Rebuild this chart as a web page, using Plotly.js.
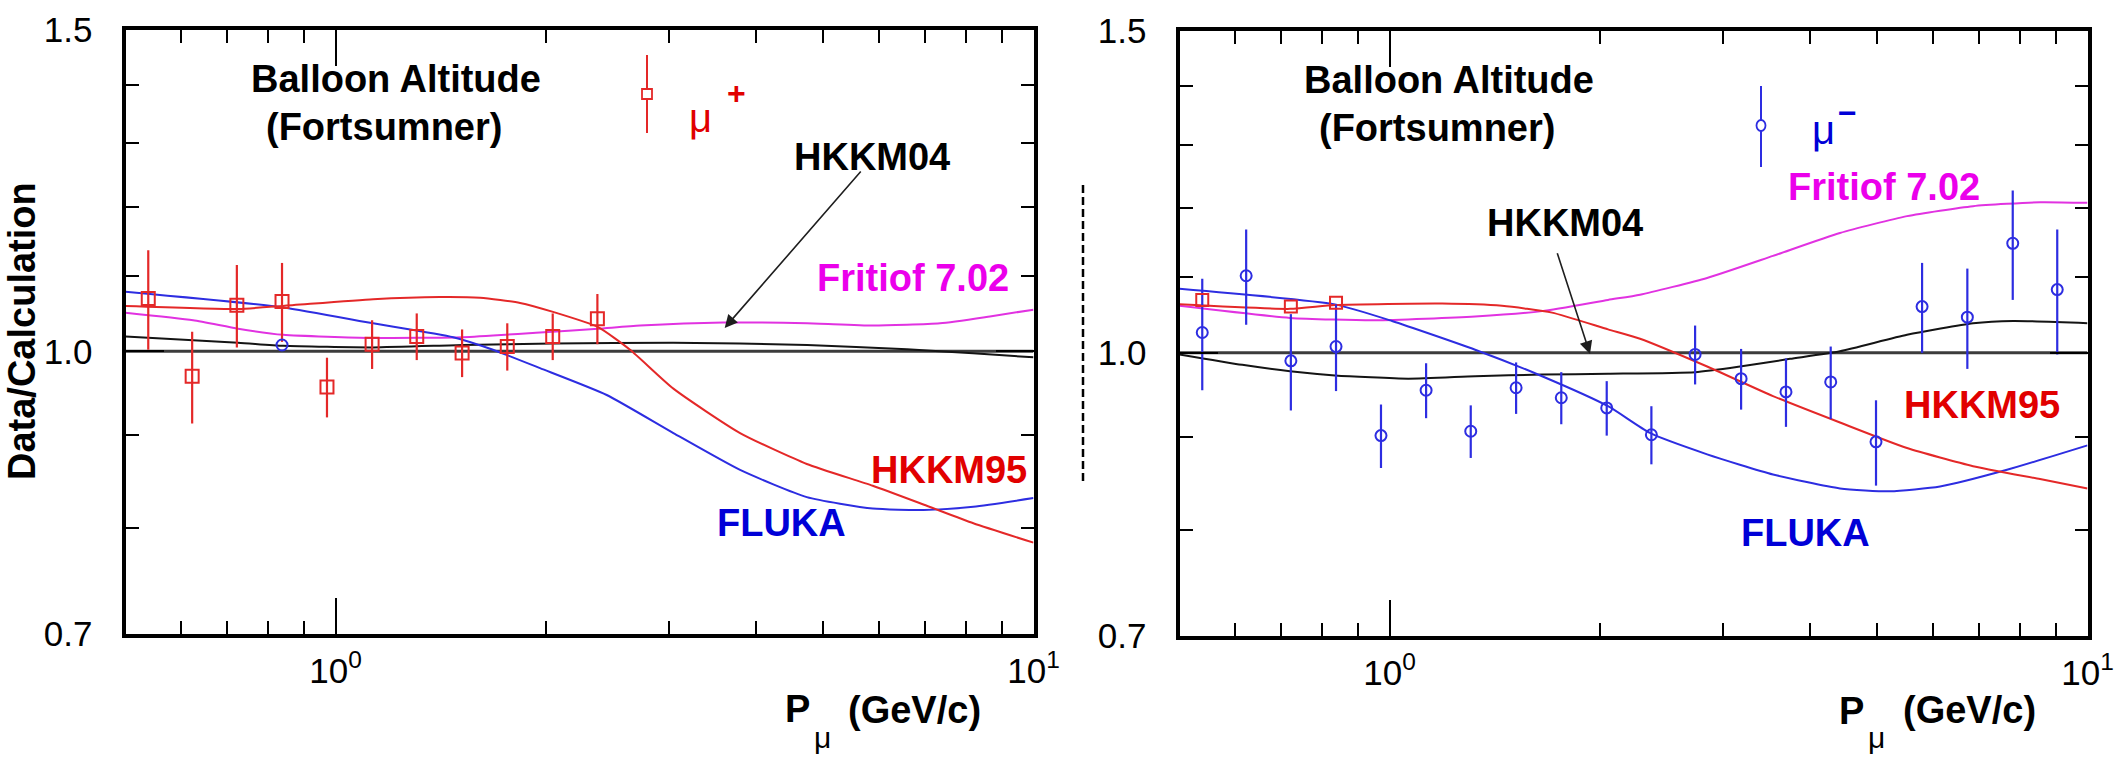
<!DOCTYPE html>
<html>
<head>
<meta charset="utf-8">
<script src="https://cdn.plot.ly/plotly-3.0.1.min.js"></script>
<style>
  html, body { margin: 0; padding: 0; background: #ffffff; }
  #chart { width: 2114px; height: 757px; }
</style>
</head>
<body>
<div id="chart"></div>
<script>
// ---- Momentum bins (GeV/c) shared by the mu+ and mu- measurements ----
const momentumBins = [0.539, 0.623, 0.722, 0.838, 0.972, 1.128, 1.307, 1.518, 1.762, 2.047,
                      2.372, 2.740, 3.189, 3.698, 4.286, 4.977, 5.794, 6.727, 7.814, 9.05];

// ---- mu+ data / calculation ratio (first 11 bins) ----
const muPlusRatio = [1.069, 0.969, 1.060, 1.065, 0.956, 1.009, 1.019, 0.998, 1.006, 1.019, 1.042];
const muPlusErr   = [0.067, 0.056, 0.055, 0.053, 0.036, 0.031, 0.030, 0.030, 0.030, 0.030, 0.033];

// ---- mu- data / calculation ratio (20 bins) ----
const muMinusRatio = [1.026, 1.102, 0.990, 1.008, 0.901, 0.954, 0.906, 0.957, 0.945, 0.933,
                      0.902, 0.998, 0.968, 0.952, 0.964, 0.894, 1.060, 1.046, 1.148, 1.083];
const muMinusErr   = [0.072, 0.066, 0.060, 0.055, 0.036, 0.033, 0.030, 0.031, 0.031, 0.032,
                      0.033, 0.037, 0.037, 0.041, 0.044, 0.048, 0.060, 0.066, 0.079, 0.085];

// points of the other charge that overlap each panel
const muMinusShownLeft = [3];
const muPlusShownRight = [0, 2, 3];

// ---- model ratios, mu+ ----
const plusFlukaP   = [0.5, 0.841, 1.132, 1.474, 1.681, 1.963, 2.446, 3.048, 3.798, 4.733, 5.884, 6.953, 8.2, 10];
const plusFlukaR   = [1.078, 1.057, 1.036, 1.018, 1.002, 0.979, 0.9464, 0.902, 0.861, 0.832, 0.820, 0.8186, 0.822, 0.831];
const plusHkkm95P  = [0.5, 0.725, 0.841, 1.132, 1.411, 1.611, 1.838, 2.049, 2.377, 2.642, 3.048, 3.798, 4.733, 5.884, 7.031, 8.2, 10];
const plusHkkm95R  = [1.059, 1.055, 1.059, 1.068, 1.071, 1.070, 1.063, 1.051, 1.031, 1.002, 0.954, 0.902, 0.8675, 0.844, 0.823, 0.805, 0.7855];
const plusFritiofP = [0.5, 0.625, 0.725, 0.841, 1.132, 1.523, 1.963, 2.377, 2.731, 3.592, 4.738, 5.888, 7.346, 8.66, 10];
const plusFritiofR = [1.050, 1.040, 1.029, 1.021, 1.017, 1.018, 1.024, 1.029, 1.033, 1.037, 1.036, 1.033, 1.036, 1.045, 1.054];
const plusHkkm04P  = [0.5, 0.725, 0.841, 1.132, 1.523, 2.049, 3.045, 4.738, 6.587, 8.19, 10];
const plusHkkm04R  = [1.019, 1.011, 1.007, 1.005, 1.008, 1.010, 1.011, 1.008, 1.0025, 0.9975, 0.9925];

// ---- model ratios, mu- ----
const minusFlukaP   = [0.5, 0.835, 1.008, 1.326, 1.654, 2.056, 2.361, 2.851, 3.543, 4.419, 5.212, 6.147, 7.668, 10];
const minusFlukaR   = [1.084, 1.063, 1.041, 1.004, 0.971, 0.935, 0.904, 0.880, 0.858, 0.843, 0.840, 0.845, 0.863, 0.890];
const minusHkkm95P  = [0.5, 0.720, 0.835, 1.189, 1.449, 1.709, 2.056, 2.285, 2.851, 3.543, 4.419, 5.513, 6.855, 8.55, 10];
const minusHkkm95R  = [1.063, 1.057, 1.062, 1.064, 1.061, 1.052, 1.030, 1.018, 0.983, 0.947, 0.916, 0.887, 0.867, 0.853, 0.843];
const minusFritiofP = [0.5, 0.720, 0.953, 1.326, 1.654, 2.056, 2.285, 2.851, 3.543, 4.419, 5.513, 6.855, 8.55, 10];
const minusFritiofR = [1.061, 1.045, 1.042, 1.047, 1.054, 1.069, 1.076, 1.099, 1.130, 1.163, 1.188, 1.203, 1.209, 1.208];
const minusHkkm04P  = [0.5, 0.615, 0.720, 0.835, 1.063, 1.326, 1.654, 2.056, 2.741, 3.178, 3.748, 4.419, 5.513, 6.855, 7.823, 10];
const minusHkkm04R  = [0.998, 0.985, 0.977, 0.972, 0.968, 0.971, 0.973, 0.974, 0.976, 0.983, 0.9925, 1.002, 1.023, 1.038, 1.041, 1.038];

// ---- axes ----
const pRange = [0.5, 10];
const ratioRange = [0.7, 1.5];
const unityRatio = [1, 1];
const xMajorTicks = [1, 10];
const xMajorText = ['10<sup>0</sup>', '10<sup>1</sup>'];
const xMinorTicks = [0.6, 0.7, 0.8, 0.9, 2, 3, 4, 5, 6, 7, 8, 9];
const yMajorTicks = [0.7, 1.0, 1.5];
const yMajorText = ['0.7', '1.0', '1.5'];
const yMinorTicks = [0.8, 0.9, 1.1, 1.2, 1.3, 1.4];

// ---- colours ----
const RED = 'rgb(228,40,40)';
const BLUE = 'rgb(45,45,225)';
const MAGENTA = 'rgb(225,50,225)';
const BLACK = 'rgb(20,20,20)';
const TXT_RED = 'rgb(225,0,0)';
const TXT_BLUE = 'rgb(0,0,215)';
const TXT_MAGENTA = 'rgb(235,0,235)';
const FONT = '"Liberation Sans", Arial, Helvetica, sans-serif';

// ---- figure geometry (pixels) ----
const W = 2114, H = 757;
const px = v => v / W;
const py = v => 1 - v / H;

function pick(arr, idx) { return idx.map(i => arr[i]); }

function curve(x, y, color, xa, ya, width) {
  return { x, y, type: 'scatter', mode: 'lines', xaxis: xa, yaxis: ya,
           line: { color, width: width || 2, shape: 'spline', smoothing: 0.55 },
           hoverinfo: 'skip', showlegend: false };
}
function points(x, y, err, symbol, color, size, xa, ya) {
  const t = { x, y, type: 'scatter', mode: 'markers', xaxis: xa, yaxis: ya,
              marker: { symbol, size, color, line: { color, width: 2 } },
              hoverinfo: 'skip', showlegend: false };
  if (err) t.error_y = { type: 'data', array: err, visible: true, color, thickness: 2.2, width: 0 };
  return t;
}

const traces = [
  // left panel: mu+
  curve(pRange, unityRatio, 'rgb(60,60,60)', 'x', 'y', 3),
  curve(plusHkkm04P, plusHkkm04R, BLACK, 'x', 'y'),
  curve(plusFritiofP, plusFritiofR, MAGENTA, 'x', 'y'),
  curve(plusFlukaP, plusFlukaR, BLUE, 'x', 'y'),
  curve(plusHkkm95P, plusHkkm95R, RED, 'x', 'y'),
  points(momentumBins.slice(0, muPlusRatio.length), muPlusRatio, muPlusErr, 'square-open', RED, 13, 'x', 'y'),
  points(pick(momentumBins, muMinusShownLeft), pick(muMinusRatio, muMinusShownLeft), null, 'circle-open', BLUE, 11, 'x', 'y'),
  // right panel: mu-
  curve(pRange, unityRatio, 'rgb(60,60,60)', 'x2', 'y2', 3),
  curve(minusHkkm04P, minusHkkm04R, BLACK, 'x2', 'y2'),
  curve(minusFritiofP, minusFritiofR, MAGENTA, 'x2', 'y2'),
  curve(minusFlukaP, minusFlukaR, BLUE, 'x2', 'y2'),
  curve(minusHkkm95P, minusHkkm95R, RED, 'x2', 'y2'),
  points(momentumBins, muMinusRatio, muMinusErr, 'circle-open', BLUE, 11, 'x2', 'y2'),
  points(pick(momentumBins, muPlusShownRight), pick(muPlusRatio, muPlusShownRight), null, 'square-open', RED, 12, 'x2', 'y2')
];

function xAxis(domain, anchor) {
  return {
    type: 'log', range: pRange.map(Math.log10), domain, anchor,
    tickmode: 'array', tickvals: xMajorTicks, ticktext: xMajorText,
    ticks: 'inside', ticklen: 36, tickwidth: 2, tickcolor: 'black',
    minor: { tickmode: 'array', tickvals: xMinorTicks, ticks: 'inside', ticklen: 13, tickwidth: 2, tickcolor: 'black' },
    showline: true, linewidth: 4, linecolor: 'black', mirror: 'ticks',
    showgrid: false, zeroline: false, ticklabelstandoff: 3, ticklabeloverflow: 'allow',
    tickfont: { family: FONT, size: 35, color: 'black' }
  };
}
function yAxis(domain, anchor) {
  return {
    type: 'log', range: ratioRange.map(Math.log10), domain, anchor,
    tickmode: 'array', tickvals: yMajorTicks, ticktext: yMajorText,
    ticks: 'inside', ticklen: 38, tickwidth: 2, tickcolor: 'black',
    minor: { tickmode: 'array', tickvals: yMinorTicks, ticks: 'inside', ticklen: 13, tickwidth: 2, tickcolor: 'black' },
    showline: true, linewidth: 4, linecolor: 'black', mirror: 'ticks',
    showgrid: false, zeroline: false, ticklabelstandoff: 22, ticklabeloverflow: 'allow',
    tickfont: { family: FONT, size: 35, color: 'black' }
  };
}

function label(text, x, y, color, size, bold, extra) {
  return Object.assign({
    text, xref: 'paper', yref: 'paper', x: px(x), y: py(y),
    xanchor: 'center', yanchor: 'middle', showarrow: false,
    font: { family: FONT, size, color, weight: bold ? 'bold' : 'normal' }
  }, extra || {});
}

// arrow from the HKKM04 label down to the curves (tip given in data units)
function pointer(xa, ya, tipP, tipR, tailP, tailR) {
  return {
    xref: xa, yref: ya, axref: xa, ayref: ya,
    x: Math.log10(tipP), y: Math.log10(tipR),
    ax: Math.log10(tailP), ay: Math.log10(tailR),
    text: '', showarrow: true, arrowhead: 2, arrowsize: 1.6, arrowwidth: 1.6, arrowcolor: 'rgb(30,30,30)'
  };
}

const annotations = [
  // left panel
  label('Balloon Altitude', 396, 79, 'black', 38, true),
  label('(Fortsumner)', 384, 127, 'black', 38, true),
  label('μ', 700, 118, TXT_RED, 40, false),
  label('+', 736, 93, TXT_RED, 32, true),
  label('HKKM04', 872, 157, 'black', 38, true),
  label('Fritiof 7.02', 913, 278, TXT_MAGENTA, 38, true),
  label('HKKM95', 949, 470, TXT_RED, 38, true),
  label('FLUKA', 781, 523, TXT_BLUE, 38, true),
  label('P', 797, 709, 'black', 38, true),
  label('μ', 822, 737, 'black', 30, false),
  label('(GeV/c)', 914, 710, 'black', 38, true),
  label('Data/Calculation', 22, 331, 'black', 38, true, { textangle: -90 }),
  pointer('x', 'y', 3.61, 1.030, 5.68, 1.257),
  // right panel
  label('Balloon Altitude', 1449, 80, 'black', 38, true),
  label('(Fortsumner)', 1437, 128, 'black', 38, true),
  label('μ', 1823, 130, TXT_BLUE, 40, false),
  label('−', 1847, 113, TXT_BLUE, 32, true),
  label('Fritiof 7.02', 1884, 187, TXT_MAGENTA, 38, true),
  label('HKKM04', 1565, 223, 'black', 38, true),
  label('HKKM95', 1982, 405, TXT_RED, 38, true),
  label('FLUKA', 1805, 533, TXT_BLUE, 38, true),
  label('P', 1851, 711, 'black', 38, true),
  label('μ', 1876, 737, 'black', 30, false),
  label('(GeV/c)', 1969, 710, 'black', 38, true),
  pointer('x2', 'y2', 1.937, 0.9986, 1.736, 1.136)
];

const shapes = [
  // legend symbols
  { type: 'line', xref: 'paper', yref: 'paper', x0: px(647), x1: px(647), y0: py(55), y1: py(133), line: { color: RED, width: 2 } },
  { type: 'rect', xref: 'paper', yref: 'paper', x0: px(642), x1: px(652), y0: py(89), y1: py(99), fillcolor: 'white', line: { color: RED, width: 1.8 } },
  { type: 'line', xref: 'paper', yref: 'paper', x0: px(1761), x1: px(1761), y0: py(86), y1: py(167), line: { color: BLUE, width: 2 } },
  { type: 'circle', xref: 'paper', yref: 'paper', x0: px(1756.5), x1: px(1765.5), y0: py(120), y1: py(131), fillcolor: 'white', line: { color: BLUE, width: 1.8 } },
  // dashed stroke between the panels
  { type: 'line', xref: 'paper', yref: 'paper', x0: px(1083), x1: px(1083), y0: py(185), y1: py(483), line: { color: 'black', width: 2.5, dash: '8px,4px' } }
];

const layout = {
  width: W, height: H,
  margin: { l: 0, r: 0, t: 0, b: 0 },
  paper_bgcolor: 'white', plot_bgcolor: 'white',
  showlegend: false,
  xaxis: xAxis([px(125.5), px(1033.5)], 'y'),
  yaxis: yAxis([py(634), py(30)], 'x'),
  xaxis2: xAxis([px(1179.5), px(2087.5)], 'y2'),
  yaxis2: yAxis([py(636), py(31)], 'x2'),
  annotations, shapes
};

Plotly.newPlot('chart', traces, layout, { staticPlot: true, displayModeBar: false });
</script>
</body>
</html>
